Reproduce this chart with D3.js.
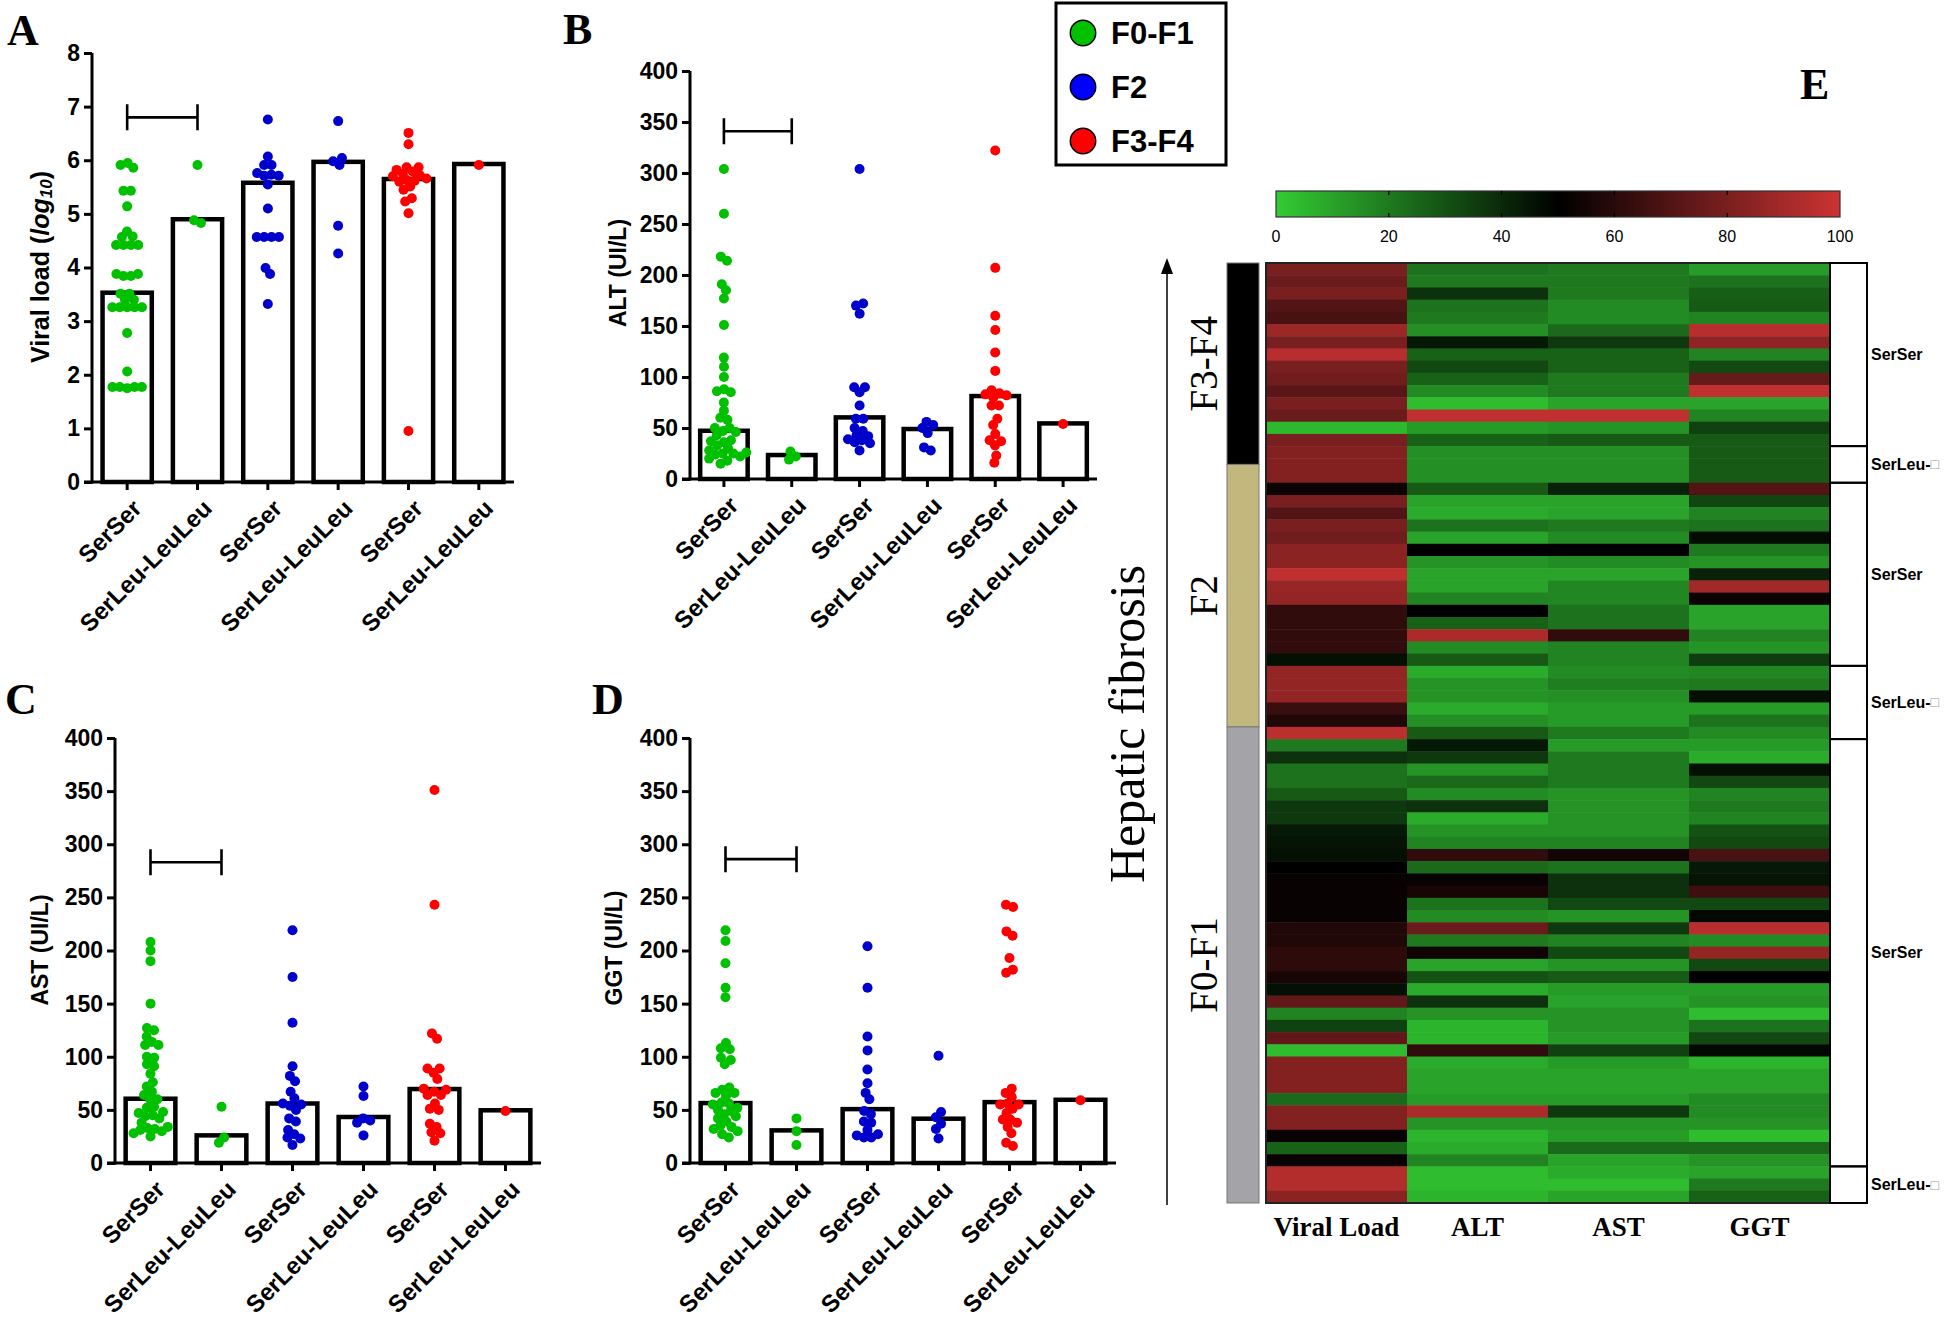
<!DOCTYPE html>
<html><head><meta charset="utf-8">
<script src="https://cdn.jsdelivr.net/npm/d3@7"></script>
<style>body{margin:0;background:#fff} svg{display:block}</style>
</head><body>
<svg id="chart" width="1946" height="1326"></svg>
<script>
// ---------------- DATA ----------------
const categories = ["SerSer","SerLeu-LeuLeu","SerSer","SerLeu-LeuLeu","SerSer","SerLeu-LeuLeu"];
const categoryFibrosis = ["F0-F1","F0-F1","F2","F2","F3-F4","F3-F4"];
const legendLabels = ["F0-F1","F2","F3-F4"];

const viralTicks = [0,1,2,3,4,5,6,7,8];
const enzymeTicks = [0,50,100,150,200,250,300,350,400];

const viralBars = [3.53, 4.90, 5.58, 5.97, 5.65, 5.93];
const viralPoints = [
  [5.95,5.86,5.91,5.43,5.43,5.14,4.67,4.58,4.57,4.42,4.42,4.42,4.42,3.88,3.88,3.84,3.84,3.51,3.51,3.40,3.40,3.26,3.26,3.26,3.26,3.26,2.78,2.06,1.77,1.77,1.75,1.77,1.77],
  [5.91,4.83,4.88],
  [6.76,6.07,5.91,5.91,5.76,5.73,5.71,5.71,5.55,5.10,4.57,4.57,4.57,4.57,3.99,3.88,3.32],
  [6.73,6.04,5.98,5.91,4.78,4.26],
  [6.51,6.30,5.87,5.87,5.82,5.79,5.75,5.72,5.70,5.66,5.63,5.62,5.60,5.51,5.45,5.29,5.23,5.01,0.95],
  [5.91]
];

const altBars = [47.3, 23.5, 60.4, 49, 81.3, 54.5];
const altPoints = [
  [304,260,218,214,191,185,177,151,119,110,100,88,86,85,75,67,60,58,50,50,47,46,43,38,37,36,33,30,28,26,25,25,24,22,20,18,15],
  [27,22,19],
  [304,172,170,162,90,90,85,72,59,59,50,47,43,42,39,38,36,35,28],
  [56,53,50,45,31,28],
  [322,207,160,146,124,106,87,84,83,82,80,72,72,59,53,44,38,37,33,23,16],
  [54]
];

const astBars = [60.5, 26, 56, 43.3, 69.6, 49.6];
const astPoints = [
  [208,200,190,150,127,125,119,114,111,111,100,99,93,91,84,76,72,67,64,60,60,53,52,48,47,45,44,42,38,34,33,32,31,30,28,25],
  [53,24,19],
  [219,175,132,91,82,77,67,61,56,55,54,50,42,39,31,27,24,23,17],
  [72,63,42,40,38,26],
  [351,243,122,117,89,89,85,79,70,69,67,64,64,56,51,50,37,34,29,28,21],
  [49]
];

const ggtBars = [56.4, 30.7, 50.7, 41.7, 57.3, 59.5];
const ggtPoints = [
  [219,209,188,165,156,113,108,107,99,97,93,71,69,66,66,63,57,56,55,52,50,49,46,44,42,39,35,34,32,30,27,24],
  [42,30,17],
  [204,165,119,106,88,75,66,60,49,46,39,38,31,27,26,24,24],
  [101,48,43,37,32,23],
  [243,241,218,214,193,182,179,70,66,62,56,55,55,51,47,41,41,38,34,28,19,16],
  [59]
];

const bracketLevels = [6.8, 341, 283, 286];

// heatmap (rows top -> bottom, 0..100 scale)
const heatColumns = ["Viral Load","ALT","AST","GGT"];
const hmViral = [80,76,80,70,68,88,80,95,80,78,72,80,76,5,80,82,82,82,53,80,70,80,78,84,84,97,87,86,62,62,62,62,46,86,86,86,64,58,96,20,38,22,22,28,36,36,44,45,46,50,52,52,52,52,58,58,61,61,56,46,74,18,34,74,4,82,82,82,24,82,82,52,26,52,94,94,84];
const hmALT = [22,20,38,22,20,15,44,26,32,26,16,4,97,12,26,15,15,15,28,10,8,22,10,50,14,10,10,18,50,26,92,16,28,8,14,14,8,15,28,44,36,14,24,16,38,8,14,18,62,24,52,56,22,16,76,20,54,10,30,8,38,14,6,6,62,8,10,10,12,92,14,6,8,18,4,4,6];
const hmAST = [20,20,20,16,16,24,36,26,26,20,20,10,97,14,28,15,15,15,42,10,10,20,16,50,16,10,17,17,22,22,62,18,18,16,19,15,12,12,20,12,20,20,20,14,14,14,14,18,55,22,38,38,32,14,36,18,32,14,28,12,10,14,14,12,34,12,10,10,12,36,14,12,24,10,8,4,10];
const hmGGT = [12,22,27,28,18,95,85,18,32,75,97,10,18,34,28,28,28,28,70,33,18,22,47,20,14,42,90,53,10,10,18,14,35,17,20,46,12,22,16,12,8,46,32,18,20,18,30,32,68,44,45,65,32,48,95,16,86,32,50,12,14,4,22,32,48,6,10,10,16,16,14,4,24,14,10,20,26];
const heatValues = [hmViral, hmALT, hmAST, hmGGT];

const genotypeGroups = ["SerSer","SerLeu-","SerSer","SerLeu-","SerSer","SerLeu-"];
const genotypeRows = [15,3,15,6,35,3];
const fibrosisLabels = ["F3-F4","F2","F0-F1"];
const fibrosisRows = [16.5,21.5,39];
const colorbarTicks = [0,20,40,60,80,100];

// ---------------- STYLE / LAYOUT ----------------
const SANS = "'Liberation Sans', Arial, Helvetica, sans-serif";
const SERIF = "'Liberation Serif', 'Times New Roman', serif";
const dotColor = {"F0-F1":"#00C000","F2":"#0000CC","F3-F4":"#FF0000"};
const legendColor = {"F0-F1":"#00C000","F2":"#0000FF","F3-F4":"#FF0000"};

const svg = d3.select("#chart");

const panels = [
  {letter:"A", lx:7,   ly:45,  x0:92,  x1:514,  yTop:53,  yBot:482,  tx:40,  ty:267, max:8,   ticks:viralTicks,  bars:viralBars, pts:viralPoints, br:bracketLevels[0], title:"viral"},
  {letter:"B", lx:563, ly:44,  x0:690, x1:1097, yTop:71,  yBot:479,  tx:618, ty:273, max:400, ticks:enzymeTicks, bars:altBars,   pts:altPoints,   br:bracketLevels[1], title:"ALT (UI/L)"},
  {letter:"C", lx:5,   ly:714, x0:115, x1:541,  yTop:738, yBot:1163, tx:40,  ty:950, max:400, ticks:enzymeTicks, bars:astBars,   pts:astPoints,   br:bracketLevels[2], title:"AST (UI/L)"},
  {letter:"D", lx:592, ly:714, x0:690, x1:1116, yTop:738, yBot:1163, tx:614, ty:948, max:400, ticks:enzymeTicks, bars:ggtBars,   pts:ggtPoints,   br:bracketLevels[3], title:"GGT (UI/L)"}
];

function swarm(vals, cx, y){
  const nodes = vals.map((v,i)=>({v, fy:y(v), y:y(v), x: cx + (i%2?1:-1)*((i%5)+0.5)}));
  const sim = d3.forceSimulation(nodes)
    .force("x", d3.forceX(cx).strength(0.06))
    .force("c", d3.forceCollide(3.7).strength(0.9).iterations(3))
    .stop();
  for(let k=0;k<300;k++) sim.tick();
  return nodes;
}

panels.forEach(p=>{
  const g = svg.append("g");
  const x = d3.scaleBand().domain(d3.range(categories.length)).range([p.x0,p.x1]).paddingInner(0.3).paddingOuter(0.15);
  const y = d3.scaleLinear().domain([0,p.max]).range([p.yBot,p.yTop]);

  g.append("text").attr("x",p.lx).attr("y",p.ly).text(p.letter)
    .style("font-family",SERIF).style("font-weight","bold").style("font-size","44px");

  g.selectAll("rect.bar").data(p.bars).join("rect")
    .attr("x",(d,i)=>x(i)).attr("width",x.bandwidth())
    .attr("y",d=>y(d)).attr("height",d=>y(0)-y(d))
    .attr("fill","#fff").attr("stroke","#000").attr("stroke-width",4.5);

  const ya = g.append("g").attr("transform",`translate(${p.x0},0)`)
    .call(d3.axisLeft(y).tickValues(p.ticks).tickSize(8).tickSizeOuter(0).tickPadding(4));
  ya.select(".domain").remove();
  ya.selectAll(".tick line").attr("stroke","#000").attr("stroke-width",3);
  ya.selectAll(".tick text").style("font-family",SANS).style("font-weight","bold").style("font-size","23px").attr("fill","#000");
  g.append("line").attr("x1",p.x0).attr("x2",p.x0).attr("y1",y(0)+1.5).attr("y2",y(p.max))
    .attr("stroke","#000").attr("stroke-width",3);

  g.append("line").attr("x1",p.x0-8).attr("x2",p.x1).attr("y1",y(0)).attr("y2",y(0))
    .attr("stroke","#000").attr("stroke-width",3);
  categories.forEach((c,i)=>{
    const cx = x(i)+x.bandwidth()/2;
    g.append("line").attr("x1",cx).attr("x2",cx).attr("y1",y(0)).attr("y2",y(0)+8)
      .attr("stroke","#000").attr("stroke-width",3);
    g.append("text").attr("transform",`translate(${cx+4},${y(0)+16}) rotate(-45)`)
      .attr("text-anchor","end").attr("dy","0.7em").text(c)
      .style("font-family",SANS).style("font-weight","bold").style("font-size","24px");
  });

  const bx1 = x(0)+x.bandwidth()/2, bx2 = x(1)+x.bandwidth()/2, by = y(p.br);
  g.append("path").attr("d",`M${bx1},${by-13}V${by+13}M${bx1},${by}H${bx2}M${bx2},${by-13}V${by+13}`)
    .attr("fill","none").attr("stroke","#000").attr("stroke-width",2.6);

  p.pts.forEach((vals,i)=>{
    const cx = x(i)+x.bandwidth()/2;
    const nodes = swarm(vals,cx,y);
    g.selectAll(null).data(nodes).join("circle")
      .attr("cx",d=>d.x).attr("cy",d=>d.fy).attr("r",5)
      .attr("fill",dotColor[categoryFibrosis[i]]);
  });

  const t = g.append("text").attr("transform",`translate(${p.tx},${p.ty}) rotate(-90)`)
    .attr("text-anchor","middle").attr("dominant-baseline","central")
    .style("font-family",SANS).style("font-weight","bold").style("font-size","23px");
  if(p.title==="viral"){
    t.style("font-size","25px");
    t.append("tspan").text("Viral load (");
    t.append("tspan").style("font-style","italic").text("log");
    t.append("tspan").style("font-style","italic").style("font-size","17px").attr("dy","6").text("10");
    t.append("tspan").attr("dy","-6").text(")");
  } else t.text(p.title);
});

// ---------------- LEGEND ----------------
const lg = svg.append("g");
lg.append("rect").attr("x",1056).attr("y",3).attr("width",170).attr("height",162)
  .attr("fill","#fff").attr("stroke","#000").attr("stroke-width",3);
const ly = d3.scalePoint().domain(legendLabels).range([33,141]);
legendLabels.forEach(l=>{
  lg.append("circle").attr("cx",1083).attr("cy",ly(l)).attr("r",12.7)
    .attr("fill",legendColor[l]).attr("stroke","#000").attr("stroke-width",1.5);
  lg.append("text").attr("x",1111).attr("y",ly(l)+11).text(l)
    .style("font-family",SANS).style("font-weight","bold").style("font-size","31px");
});

// ---------------- HEATMAP ----------------
svg.append("text").attr("x",1800).attr("y",99).text("E")
  .style("font-family",SERIF).style("font-weight","bold").style("font-size","44px");

const color = d3.scaleLinear().domain([0,50,100]).range(["#33cc33","#000000","#cc3333"]);

const cb = {x0:1276, x1:1840, y:191, h:26};
const cbx = d3.scaleLinear().domain([0,100]).range([cb.x0,cb.x1]);
const defs = svg.append("defs");
const grad = defs.append("linearGradient").attr("id","cbgrad").attr("x1","0%").attr("x2","100%");
d3.range(0,101,10).forEach(v=>grad.append("stop").attr("offset",v+"%").attr("stop-color",color(v)));
svg.append("rect").attr("x",cb.x0).attr("y",cb.y).attr("width",cb.x1-cb.x0).attr("height",cb.h)
  .attr("fill","url(#cbgrad)").attr("stroke","#333").attr("stroke-width",1.2);
colorbarTicks.forEach(v=>{
  if(v>0 && v<100){
    svg.append("line").attr("x1",cbx(v)).attr("x2",cbx(v)).attr("y1",cb.y).attr("y2",cb.y+4).attr("stroke","#000").attr("stroke-width",1.2);
    svg.append("line").attr("x1",cbx(v)).attr("x2",cbx(v)).attr("y1",cb.y+cb.h-4).attr("y2",cb.y+cb.h).attr("stroke","#000").attr("stroke-width",1.2);
  }
  svg.append("text").attr("x",cbx(v)).attr("y",242).attr("text-anchor","middle").text(v)
    .style("font-family",SANS).style("font-size","16px");
});

const hm = {x0:1266, x1:1830, y0:263, y1:1203};
const nRows = hmViral.length;
const xH = d3.scaleBand().domain(heatColumns).range([hm.x0,hm.x1]);
const yR = d3.scaleLinear().domain([0,nRows]).range([hm.y0,hm.y1]);
const hg = svg.append("g");
heatColumns.forEach((c,ci)=>{
  hg.selectAll(null).data(heatValues[ci]).join("rect")
    .attr("x",xH(c)).attr("width",xH.bandwidth()+0.5)
    .attr("y",(d,i)=>yR(i)).attr("height",(d,i)=>yR(i+1)-yR(i)+0.5)
    .attr("fill",d=>color(d));
  svg.append("text").attr("x",xH(c)+xH.bandwidth()/2).attr("y",1236).attr("text-anchor","middle").text(c)
    .style("font-family",SERIF).style("font-weight","bold").style("font-size","27px");
});
svg.append("rect").attr("x",hm.x0).attr("y",hm.y0).attr("width",hm.x1-hm.x0).attr("height",hm.y1-hm.y0)
  .attr("fill","none").attr("stroke","#222").attr("stroke-width",2);

let acc = 0;
genotypeGroups.forEach((gname,i)=>{
  const a = acc, b = acc + genotypeRows[i]; acc = b;
  svg.append("rect").attr("x",hm.x1).attr("y",yR(a)).attr("width",37).attr("height",yR(b)-yR(a))
    .attr("fill","none").attr("stroke","#000").attr("stroke-width",2);
  const t = svg.append("text").attr("x",1871).attr("y",(yR(a)+yR(b))/2).attr("dominant-baseline","central")
    .style("font-family",SANS).style("font-weight","bold").style("font-size","16px").text(gname);
  if(gname.endsWith("-")) t.append("tspan").attr("fill","#999").style("font-weight","normal").style("font-size","14px").text("\u25A1");
});

const fibFill = {"F3-F4":"#000000","F2":"#c2b77d","F0-F1":"#a3a3a8"};
acc = 0;
fibrosisLabels.forEach((f,i)=>{
  const a = acc, b = acc + fibrosisRows[i]; acc = b;
  svg.append("rect").attr("x",1227).attr("y",yR(a)).attr("width",32).attr("height",yR(b)-yR(a))
    .attr("fill",fibFill[f]).attr("stroke","#777").attr("stroke-width",1);
  svg.append("text").attr("transform",`translate(1203,${(yR(a)+yR(b))/2}) rotate(-90)`)
    .attr("text-anchor","middle").attr("dominant-baseline","central").text(f)
    .style("font-family",SERIF).style("font-size","39px");
});

svg.append("line").attr("x1",1167).attr("x2",1167).attr("y1",1205).attr("y2",270).attr("stroke","#000").attr("stroke-width",1.5);
svg.append("path").attr("d","M1167,258L1161,274L1173,274Z").attr("fill","#000");
svg.append("text").attr("transform","translate(1127,724) rotate(-90)")
  .attr("text-anchor","middle").attr("dominant-baseline","central").text("Hepatic fibrosis")
  .style("font-family",SERIF).style("font-size","50px");
</script>
</body></html>
